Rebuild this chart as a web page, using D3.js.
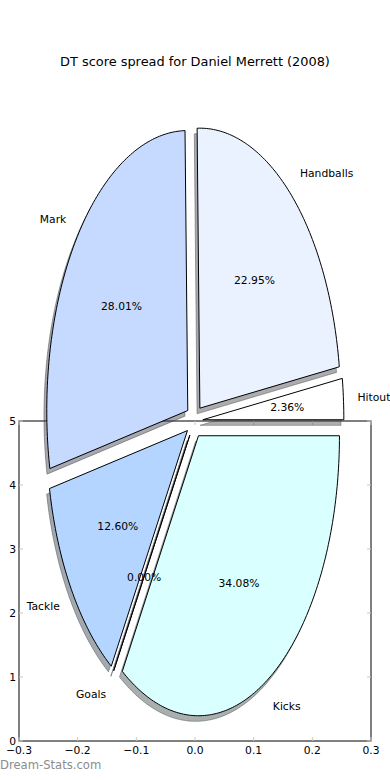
<!DOCTYPE html>
<html>
<head>
<meta charset="utf-8">
<script src="https://cdn.jsdelivr.net/npm/d3@7"></script>
<style>
  body { margin: 0; background: #fff; }
  text { font-family: "DejaVu Sans", sans-serif; fill: #000; }
</style>
</head>
<body>
<script>
// slice order follows the original pie (counter-clockwise from 3 o'clock)
var labels  = ["Hitout", "Handballs", "Mark", "Tackle", "Goals", "Kicks"];
var shares  = [2.36, 22.95, 28.01, 12.60, 0.00, 34.08];
var colors  = ["#ffffff", "#eaf1ff", "#c6d9ff", "#b3d5ff", "#c0d0ff", "#d9ffff"];
var explode = [0.06, 0.06, 0.06, 0.06, 0.06, 0.06];
var xTicks  = [-0.3, -0.2, -0.1, 0.0, 0.1, 0.2, 0.3];
var yTicks  = [0, 1, 2, 3, 4, 5];
var title   = "DT score spread for Daniel Merrett (2008)";

var W = 390, H = 780;
var svg = d3.select( "body" ).append( "svg" )
  .attr( "width", W ).attr( "height", H );

// axes box
var x = d3.scaleLinear().domain( [-0.3, 0.3] ).range( [19, 371] );
var y = d3.scaleLinear().domain( [0, 5] ).range( [741, 421] );

// pie lives in its own unit space, centred on (0, 5) of the axes
var rx = 141, ry = 280;
var cx0 = x(0) - 0.6;
var px = d3.scaleLinear().domain( [-1, 1] ).range( [cx0 - rx, cx0 + rx] );
var py = d3.scaleLinear().domain( [-1, 1] ).range( [y(5) + ry, y(5) - ry] );

svg.append( "text" )
  .attr( "x", 195 ).attr( "y", 65.5 )
  .attr( "text-anchor", "middle" )
  .style( "font-size", "12.9px" )
  .text( title );

var axes = svg.append( "g" );
axes.append( "rect" )
  .attr( "x", x(-0.3) ).attr( "y", y(5) )
  .attr( "width", x(0.3) - x(-0.3) ).attr( "height", y(0) - y(5) )
  .attr( "fill", "none" ).attr( "stroke", "#000" ).attr( "stroke-width", 1 );

xTicks.forEach( function( t ){
  axes.append( "line" ).attr( "x1", x(t) ).attr( "x2", x(t) )
    .attr( "y1", y(0) ).attr( "y2", y(0) - 4 ).attr( "stroke", "#c8c8c8" );
  axes.append( "line" ).attr( "x1", x(t) ).attr( "x2", x(t) )
    .attr( "y1", y(5) ).attr( "y2", y(5) + 4 ).attr( "stroke", "#c8c8c8" );
  axes.append( "text" )
    .attr( "x", x(t) ).attr( "y", y(0) + 13 )
    .attr( "text-anchor", "middle" )
    .style( "font-size", "10.75px" )
    .text( d3.format( ".1f" )( t ).replace( "-", "\u2212" ) );
} );

yTicks.forEach( function( t ){
  axes.append( "line" ).attr( "x1", x(-0.3) ).attr( "x2", x(-0.3) + 4 )
    .attr( "y1", y(t) ).attr( "y2", y(t) ).attr( "stroke", "#c8c8c8" );
  axes.append( "line" ).attr( "x1", x(0.3) ).attr( "x2", x(0.3) - 4 )
    .attr( "y1", y(t) ).attr( "y2", y(t) ).attr( "stroke", "#c8c8c8" );
  axes.append( "text" )
    .attr( "x", x(-0.3) - 3 ).attr( "y", y(t) + 4 )
    .attr( "text-anchor", "end" )
    .style( "font-size", "10.75px" )
    .text( t );
} );

// wedges
var arcs = d3.pie().sort( null ).value( function( d ){ return d; } )
  .startAngle( 0 ).endAngle( 2 * Math.PI )( shares );

var line = d3.line();

function wedgePath( a, i, ox, oy ){
  var mid = ( a.startAngle + a.endAngle ) / 2;
  var sx = explode[i] * Math.cos( mid ) + ox;
  var sy = explode[i] * Math.sin( mid ) + oy;
  var pts = [ [px( sx ), py( sy )] ];
  var n = Math.max( 2, Math.ceil( ( a.endAngle - a.startAngle ) * 60 ) );
  for( var k = 0; k <= n; k++ ){
    var t = a.startAngle + ( a.endAngle - a.startAngle ) * k / n;
    pts.push( [px( sx + Math.cos( t ) ), py( sy + Math.sin( t ) )] );
  }
  return line( pts ) + "Z";
}

var shadowLayer = svg.append( "g" );
var wedgeLayer  = svg.append( "g" );

arcs.forEach( function( a, i ){
  var c = d3.rgb( colors[i] );
  var sc = d3.rgb( c.r * 0.3, c.g * 0.3, c.b * 0.3 );
  shadowLayer.append( "path" )
    .attr( "d", wedgePath( a, i, -0.02, -0.02 ) )
    .attr( "fill", sc ).attr( "fill-opacity", 0.45 )
    .attr( "stroke", sc ).attr( "stroke-opacity", 0.45 )
    .attr( "stroke-linejoin", "round" );
  wedgeLayer.append( "path" )
    .attr( "d", wedgePath( a, i, 0, 0 ) )
    .attr( "fill", colors[i] )
    .attr( "stroke", "#000" ).attr( "stroke-width", 1 )
    .attr( "stroke-linejoin", "miter" );
} );

// labels
var textLayer = svg.append( "g" );
arcs.forEach( function( a, i ){
  var mid = ( a.startAngle + a.endAngle ) / 2;
  var cxp = Math.cos( mid ), syp = Math.sin( mid );
  var lx = explode[i] * cxp + 1.1 * cxp, ly = explode[i] * syp + 1.1 * syp;
  textLayer.append( "text" )
    .attr( "x", px( lx ) ).attr( "y", py( ly ) + 4 )
    .attr( "text-anchor", cxp > 0 ? "start" : "end" )
    .style( "font-size", "10.75px" )
    .text( labels[i] );
  var qx = explode[i] * cxp + 0.6 * cxp, qy = explode[i] * syp + 0.6 * syp;
  textLayer.append( "text" )
    .attr( "x", px( qx ) ).attr( "y", py( qy ) + 4 )
    .attr( "text-anchor", "middle" )
    .style( "font-size", "10.75px" )
    .text( d3.format( ".2f" )( shares[i] ) + "%" );
} );

svg.append( "text" )
  .attr( "x", 0 ).attr( "y", 769 )
  .style( "font-size", "11.6px" )
  .style( "fill", "#8c8c8c" )
  .text( "Dream-Stats.com" );
</script>
</body>
</html>
